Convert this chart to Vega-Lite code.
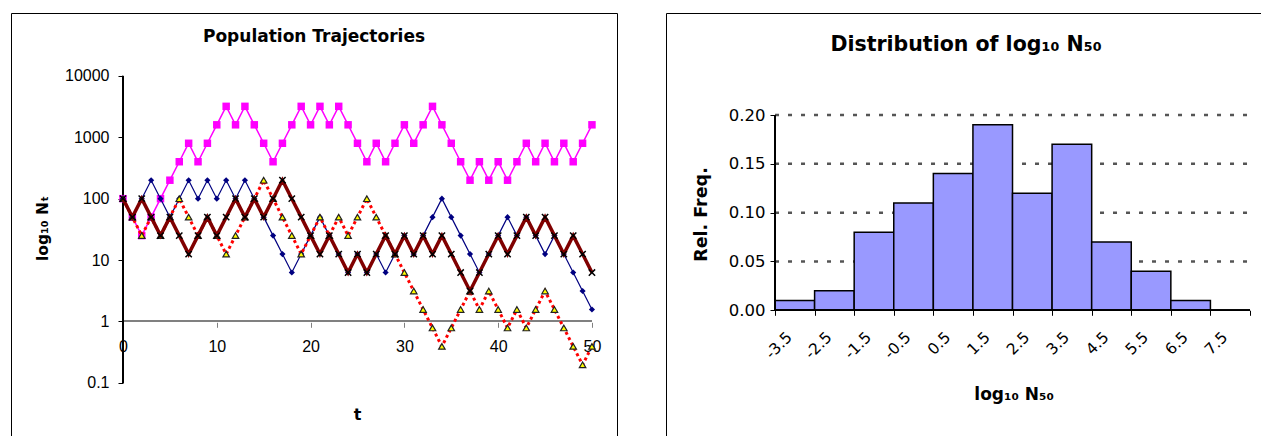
{
  "$schema": "https://vega.github.io/schema/vega-lite/v6.json",
  "padding": {"left": 10, "top": 12, "right": 0, "bottom": 0},
  "spacing": 47,
  "config": {
    "font": "DejaVu Sans",
    "view": {"stroke": "#000000", "strokeWidth": 1},
    "axis": {"labelColor": "#000000", "titleColor": "#000000", "labelFont": "DejaVu Sans", "titleFont": "DejaVu Sans", "labelOverlap": false, "grid": false, "domain": false},
    "title": {"font": "DejaVu Sans", "color": "#000000"}
  },
  "hconcat": [
    {
      "width": 606,
      "height": 430,
      "title": {"text": "Population Trajectories", "fontSize": 17, "fontWeight": "bold", "anchor": "middle", "frame": "group", "offset": -33},
      "data": {"values": [
        {"t":0,"A":100,"B":100,"C":100,"D":100},
        {"t":1,"A":50,"B":50,"C":50,"D":50},
        {"t":2,"A":25,"B":100,"C":25,"D":100},
        {"t":3,"A":50,"B":200,"C":50,"D":50},
        {"t":4,"A":100,"B":100,"C":25,"D":25},
        {"t":5,"A":200,"B":50,"C":50,"D":50},
        {"t":6,"A":400,"B":100,"C":100,"D":25},
        {"t":7,"A":800,"B":200,"C":50,"D":12.5},
        {"t":8,"A":400,"B":100,"C":25,"D":25},
        {"t":9,"A":800,"B":200,"C":50,"D":50},
        {"t":10,"A":1600,"B":100,"C":25,"D":25},
        {"t":11,"A":3200,"B":200,"C":12.5,"D":50},
        {"t":12,"A":1600,"B":100,"C":25,"D":100},
        {"t":13,"A":3200,"B":200,"C":50,"D":50},
        {"t":14,"A":1600,"B":100,"C":100,"D":100},
        {"t":15,"A":800,"B":50,"C":200,"D":50},
        {"t":16,"A":400,"B":25,"C":100,"D":100},
        {"t":17,"A":800,"B":12.5,"C":50,"D":200},
        {"t":18,"A":1600,"B":6.25,"C":25,"D":100},
        {"t":19,"A":3200,"B":12.5,"C":12.5,"D":50},
        {"t":20,"A":1600,"B":25,"C":25,"D":25},
        {"t":21,"A":3200,"B":50,"C":50,"D":12.5},
        {"t":22,"A":1600,"B":25,"C":25,"D":25},
        {"t":23,"A":3200,"B":12.5,"C":50,"D":12.5},
        {"t":24,"A":1600,"B":6.25,"C":25,"D":6.25},
        {"t":25,"A":800,"B":12.5,"C":50,"D":12.5},
        {"t":26,"A":400,"B":6.25,"C":100,"D":6.25},
        {"t":27,"A":800,"B":12.5,"C":50,"D":12.5},
        {"t":28,"A":400,"B":6.25,"C":25,"D":25},
        {"t":29,"A":800,"B":12.5,"C":12.5,"D":12.5},
        {"t":30,"A":1600,"B":25,"C":6.25,"D":25},
        {"t":31,"A":800,"B":12.5,"C":3.125,"D":12.5},
        {"t":32,"A":1600,"B":25,"C":1.5625,"D":25},
        {"t":33,"A":3200,"B":50,"C":0.78125,"D":12.5},
        {"t":34,"A":1600,"B":100,"C":0.390625,"D":25},
        {"t":35,"A":800,"B":50,"C":0.78125,"D":12.5},
        {"t":36,"A":400,"B":25,"C":1.5625,"D":6.25},
        {"t":37,"A":200,"B":12.5,"C":3.125,"D":3.125},
        {"t":38,"A":400,"B":6.25,"C":1.5625,"D":6.25},
        {"t":39,"A":200,"B":12.5,"C":3.125,"D":12.5},
        {"t":40,"A":400,"B":25,"C":1.5625,"D":25},
        {"t":41,"A":200,"B":50,"C":0.78125,"D":12.5},
        {"t":42,"A":400,"B":25,"C":1.5625,"D":25},
        {"t":43,"A":800,"B":50,"C":0.78125,"D":50},
        {"t":44,"A":400,"B":25,"C":1.5625,"D":25},
        {"t":45,"A":800,"B":12.5,"C":3.125,"D":50},
        {"t":46,"A":400,"B":25,"C":1.5625,"D":25},
        {"t":47,"A":800,"B":12.5,"C":0.78125,"D":12.5},
        {"t":48,"A":400,"B":6.25,"C":0.390625,"D":25},
        {"t":49,"A":800,"B":3.125,"C":0.1953125,"D":12.5},
        {"t":50,"A":1600,"B":1.5625,"C":0.390625,"D":6.25}
      ]},
      "layer": [
        {
          "mark": {"type": "rule", "color": "#808080", "strokeWidth": 1.2},
          "encoding": {
            "x": {"datum": 0, "type": "quantitative",
              "scale": {"domain": [-11.94, 52.67], "nice": false, "zero": false},
              "axis": {"orient": "bottom", "offset": -120.7, "values": [0, 10, 20, 30, 40, 50], "tickSize": 5, "tickColor": "#808080", "labelFont": "Liberation Sans", "labelFontSize": 16, "labelPadding": 11, "title": "t", "titleFontSize": 16, "titleFontWeight": "bold", "titleX": 346, "titleY": 92, "titleBaseline": "middle", "titleAlign": "center"}},
            "x2": {"datum": 50},
            "y": {"datum": 1, "type": "quantitative",
              "scale": {"type": "log", "domain": [0.0104, 106400], "nice": false},
              "axis": {"orient": "left", "offset": -112, "values": [0.1, 1, 10, 100, 1000, 10000], "format": "~g", "tickSize": 5, "tickColor": "#000000", "labelFont": "Liberation Sans", "labelFontSize": 16, "labelPadding": 9, "title": "log₁₀ Nₜ", "titleFontSize": 15.5, "titleFontWeight": "bold", "titleX": -81, "titleY": 215, "titleAngle": 270, "titleAlign": "center", "titleBaseline": "middle"}}
          }
        },
        {
          "mark": {"type": "rule", "color": "#000000", "strokeWidth": 1},
          "encoding": {
            "x": {"datum": 0, "type": "quantitative", "title": "t"},
            "y": {"datum": 0.1, "type": "quantitative", "title": "log₁₀ Nₜ"},
            "y2": {"datum": 10000}
          }
        },
        {
          "mark": {"type": "line", "color": "#FF00FF", "strokeWidth": 1.5},
          "encoding": {"x": {"field": "t", "type": "quantitative", "title": "t"}, "y": {"field": "A", "type": "quantitative", "title": "log₁₀ Nₜ"}}
        },
        {
          "mark": {"type": "point", "shape": "square", "filled": true, "color": "#FF00FF", "size": 56, "opacity": 1},
          "encoding": {"x": {"field": "t", "type": "quantitative", "title": "t"}, "y": {"field": "A", "type": "quantitative", "title": "log₁₀ Nₜ"}}
        },
        {
          "mark": {"type": "line", "color": "#000080", "strokeWidth": 1.2},
          "encoding": {"x": {"field": "t", "type": "quantitative", "title": "t"}, "y": {"field": "B", "type": "quantitative", "title": "log₁₀ Nₜ"}}
        },
        {
          "mark": {"type": "point", "shape": "diamond", "filled": true, "color": "#000080", "size": 38, "opacity": 1},
          "encoding": {"x": {"field": "t", "type": "quantitative", "title": "t"}, "y": {"field": "B", "type": "quantitative", "title": "log₁₀ Nₜ"}}
        },
        {
          "mark": {"type": "line", "color": "#FF0000", "strokeWidth": 3, "strokeDash": [3, 3]},
          "encoding": {"x": {"field": "t", "type": "quantitative", "title": "t"}, "y": {"field": "C", "type": "quantitative", "title": "log₁₀ Nₜ"}}
        },
        {
          "mark": {"type": "point", "shape": "triangle-up", "filled": true, "fill": "#FFFF00", "stroke": "#222222", "strokeWidth": 1.2, "size": 42, "opacity": 1},
          "encoding": {"x": {"field": "t", "type": "quantitative", "title": "t"}, "y": {"field": "C", "type": "quantitative", "title": "log₁₀ Nₜ"}}
        },
        {
          "mark": {"type": "line", "color": "#800000", "strokeWidth": 3.5},
          "encoding": {"x": {"field": "t", "type": "quantitative", "title": "t"}, "y": {"field": "D", "type": "quantitative", "title": "log₁₀ Nₜ"}}
        },
        {
          "mark": {"type": "point", "shape": "M-1,-1L1,1M-1,1L1,-1", "filled": false, "stroke": "#000000", "strokeWidth": 1.5, "size": 40, "opacity": 1},
          "encoding": {"x": {"field": "t", "type": "quantitative", "title": "t"}, "y": {"field": "D", "type": "quantitative", "title": "log₁₀ Nₜ"}}
        }
      ]
    },
    {
      "width": 600,
      "height": 430,
      "title": {"text": "Distribution of log₁₀ N₅₀", "fontSize": 20.5, "fontWeight": "bold", "anchor": "middle", "frame": "group", "offset": -42},
      "data": {"values": [
        {"lo": -3.5, "hi": -2.5, "f": 0.01},
        {"lo": -2.5, "hi": -1.5, "f": 0.02},
        {"lo": -1.5, "hi": -0.5, "f": 0.08},
        {"lo": -0.5, "hi": 0.5, "f": 0.11},
        {"lo": 0.5, "hi": 1.5, "f": 0.14},
        {"lo": 1.5, "hi": 2.5, "f": 0.19},
        {"lo": 2.5, "hi": 3.5, "f": 0.12},
        {"lo": 3.5, "hi": 4.5, "f": 0.17},
        {"lo": 4.5, "hi": 5.5, "f": 0.07},
        {"lo": 5.5, "hi": 6.5, "f": 0.04},
        {"lo": 6.5, "hi": 7.5, "f": 0.01}
      ]},
      "layer": [
        {
          "data": {"values": [{"g": 0.05}, {"g": 0.1}, {"g": 0.15}, {"g": 0.2}]},
          "mark": {"type": "rule", "color": "#555555", "strokeWidth": 2.5, "strokeDash": [4, 9]},
          "encoding": {
            "x": {"datum": -3.5, "type": "quantitative",
              "scale": {"domain": [-6.254, 8.904], "nice": false, "zero": false},
              "axis": {"orient": "bottom", "offset": -132.7, "values": [-3.5, -2.5, -1.5, -0.5, 0.5, 1.5, 2.5, 3.5, 4.5, 5.5, 6.5, 7.5, 8.5], "labelExpr": "datum.value > 8 ? '' : (datum.value < 0 ? '-' + format(-datum.value, '.1f') : format(datum.value, '.1f'))", "tickSize": 5, "tickColor": "#000000", "labelFontSize": 15.5, "labelAngle": -45, "labelAlign": "right", "labelBaseline": "middle", "labelPadding": 19, "labelOffset": 14, "title": "log₁₀ N₅₀", "titleFontSize": 17, "titleFontWeight": "bold", "titleX": 347.6, "titleY": 83.7, "titleBaseline": "middle", "titleAlign": "center"}},
            "x2": {"datum": 8.5},
            "y": {"field": "g", "type": "quantitative",
              "scale": {"domain": [-0.1359, 0.3045], "nice": false, "zero": false},
              "axis": {"orient": "left", "offset": -109, "values": [0, 0.05, 0.1, 0.15, 0.2], "format": ".2f", "tickSize": 5, "tickColor": "#000000", "labelFontSize": 16.5, "labelPadding": 5, "title": "Rel. Freq.", "titleFontSize": 17.5, "titleFontWeight": "bold", "titleX": -74, "titleY": 201, "titleAngle": 270, "titleAlign": "center", "titleBaseline": "middle"}}
          }
        },
        {
          "mark": {"type": "rect", "fill": "#9999FF", "stroke": "#000000", "strokeWidth": 1.5},
          "encoding": {
            "x": {"field": "lo", "type": "quantitative", "title": "log₁₀ N₅₀"},
            "x2": {"field": "hi"},
            "y": {"field": "f", "type": "quantitative", "title": "Rel. Freq."},
            "y2": {"datum": 0}
          }
        },
        {
          "mark": {"type": "rule", "color": "#000000", "strokeWidth": 1},
          "encoding": {
            "x": {"datum": -3.5, "type": "quantitative", "title": "log₁₀ N₅₀"},
            "y": {"datum": 0, "type": "quantitative", "title": "Rel. Freq."},
            "y2": {"datum": 0.2}
          }
        },
        {
          "mark": {"type": "rule", "color": "#000000", "strokeWidth": 1.2},
          "encoding": {
            "x": {"datum": -3.5, "type": "quantitative", "title": "log₁₀ N₅₀"},
            "x2": {"datum": 8.5},
            "y": {"datum": 0, "type": "quantitative", "title": "Rel. Freq."}
          }
        }
      ]
    }
  ]
}
